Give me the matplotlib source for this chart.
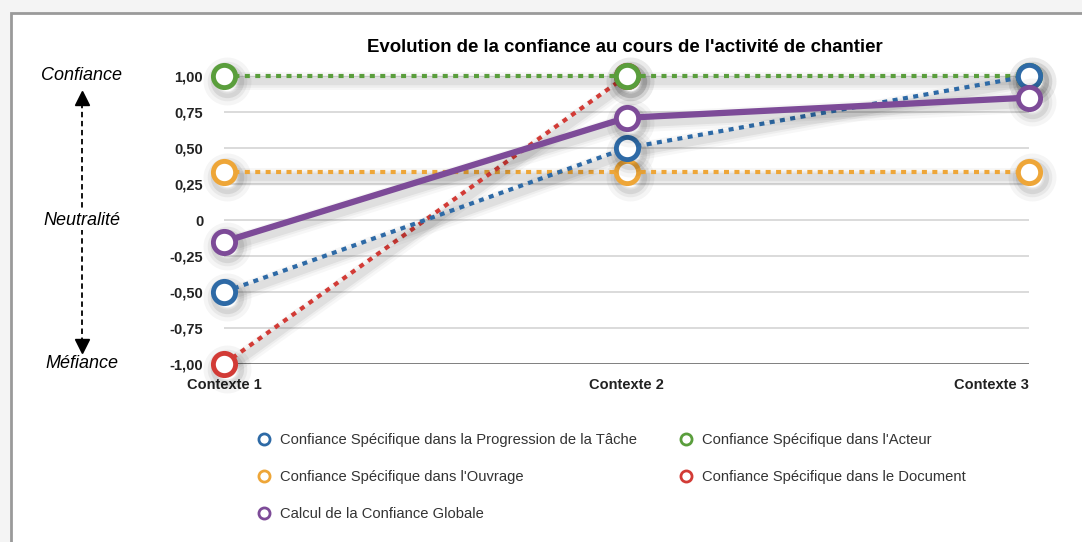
import matplotlib.pyplot as plt
import matplotlib.transforms as mtransforms
from matplotlib.patches import Rectangle
import numpy as np

contexts = ['Contexte 1', 'Contexte 2', 'Contexte 3']
yticks = [-1.0, -0.75, -0.5, -0.25, 0.0, 0.25, 0.5, 0.75, 1.0]
ytick_labels = ['-1,00', '-0,75', '-0,50', '-0,25', '0', '0,25', '0,50', '0,75', '1,00']

progression = [-0.50, 0.50, 1.00]
acteur = [1.00, 1.00, 1.00]
ouvrage = [0.33, 0.33, 0.33]
document = [-1.00, 1.00, np.nan]
globale = [-0.15, 0.71, 0.85]

labels = ['Confiance Spécifique dans la Progression de la Tâche',
          "Confiance Spécifique dans l'Ouvrage",
          'Calcul de la Confiance Globale',
          "Confiance Spécifique dans l'Acteur",
          'Confiance Spécifique dans le Document']

blue = '#2e6aa6'
green = '#5a9e3c'
orange = '#eea638'
red = '#d23b36'
purple = '#7d4b98'

plt.rcParams['font.family'] = ['Liberation Sans', 'DejaVu Sans']

fig = plt.figure(figsize=(10.82, 5.42), dpi=100)
fig.patch.set_facecolor('#f4f4f4')
# white panel with a grey border
fig.patches.append(Rectangle((11 / 1082, -0.05), 1.1, 1 - 13 / 542 + 0.05,
                             transform=fig.transFigure, facecolor='white',
                             edgecolor='#9a9a9a', linewidth=2, zorder=-5))

ax = fig.add_axes([224 / 1082, 1 - 364 / 542, (1029 - 224) / 1082, 288 / 542])
ax.set_facecolor('none')
x = np.arange(len(contexts))
ax.set_xlim(0, 2)
ax.set_ylim(-1, 1)

for yv in yticks[1:]:
    ax.axhline(yv, color='#d4d4d4', lw=1.2, zorder=1)
ax.axhline(-1, color='#6a6a6a', lw=1.2, zorder=1)

# soft drop shadow under each series: solid strokes shifted down-right
shift = ax.transData + mtransforms.ScaledTranslation(2.5 / 72, -3.5 / 72, fig.dpi_scale_trans)

def draw(vals, color, ls, lw, z):
    for w, a in [(10, 0.03), (6, 0.04), (3, 0.06)]:
        ax.plot(x, vals, color='black', lw=lw + w, alpha=a, transform=shift,
                zorder=z - 0.2, clip_on=False, solid_capstyle='round')
        ax.plot(x, vals, ls='none', marker='o', ms=16 + w, mfc='none', mec='black',
                mew=3.5 + w / 2, alpha=a * 1.3, transform=shift, zorder=z - 0.2,
                clip_on=False)
    ax.plot(x, vals, color=color, ls=ls, lw=lw, zorder=z, clip_on=False,
            dash_capstyle='butt')
    ax.plot(x, vals, ls='none', marker='o', ms=16, mfc='white', mec=color,
            mew=3.5, zorder=z + 0.5, clip_on=False)

dotted = (0, (1.2, 1.3))
draw(ouvrage, orange, dotted, 3, 3)
draw(document, red, dotted, 3, 4)
draw(acteur, green, dotted, 3, 5)
draw(progression, blue, dotted, 3, 6)
draw(globale, purple, '-', 4.5, 7)

for s in ax.spines.values():
    s.set_visible(False)
ax.set_yticks(yticks)
ax.set_yticklabels(ytick_labels, fontsize=10.5, fontweight='bold', color='#222222')
ax.set_xticks(x)
ax.set_xticklabels(contexts, fontsize=10.5, fontweight='bold', color='#222222')
ax.tick_params(length=0)
ax.tick_params(axis='y', pad=15)
ax.tick_params(axis='x', pad=10)
ax.get_xticklabels()[2].set_horizontalalignment('right')
ax.get_xticklabels()[2].set_x(2.02)

fig.text(625 / 1082, 1 - 47 / 542, "Evolution de la confiance au cours de l'activité de chantier",
         ha='center', va='center', fontsize=13.4, fontweight='bold')

# trust scale on the left: dashed double arrow behind "Neutralité"
ax_x = 82 / 1082
fig.add_artist(plt.Line2D([ax_x, ax_x], [1 - 352 / 542, 1 - 92 / 542],
                          transform=fig.transFigure, color='black', lw=1.3,
                          ls=(0, (3, 2)), zorder=3))
fig.add_artist(plt.Line2D([ax_x], [1 - 98 / 542], transform=fig.transFigure,
                          marker='^', ms=10, color='black', ls='none', zorder=3))
fig.add_artist(plt.Line2D([ax_x], [1 - 346 / 542], transform=fig.transFigure,
                          marker='v', ms=10, color='black', ls='none', zorder=3))
fig.text(ax_x, 1 - 76 / 542, 'Confiance', ha='center', va='center',
         fontsize=13, style='italic')
fig.text(ax_x, 1 - 220 / 542, 'Neutralité', ha='center', va='center',
         fontsize=13, style='italic',
         bbox=dict(facecolor='white', edgecolor='none', pad=1), zorder=5)
fig.text(ax_x, 1 - 364 / 542, 'Méfiance', ha='center', va='center',
         fontsize=13, style='italic')

# legend
series_colors = [blue, orange, purple, green, red]
handles = [plt.Line2D([], [], ls='none', marker='o', ms=8, mfc='white', mec=c, mew=2)
           for c in series_colors]
fig.legend(handles, labels, ncol=2, loc='upper left',
           bbox_to_anchor=(243 / 1082, 1 - 420 / 542), frameon=False,
           fontsize=10.6, labelcolor='#333333', handlelength=1.0, handletextpad=0.6,
           columnspacing=2.85, labelspacing=1.55)

fig.savefig('out.png', dpi=100, facecolor=fig.get_facecolor())
